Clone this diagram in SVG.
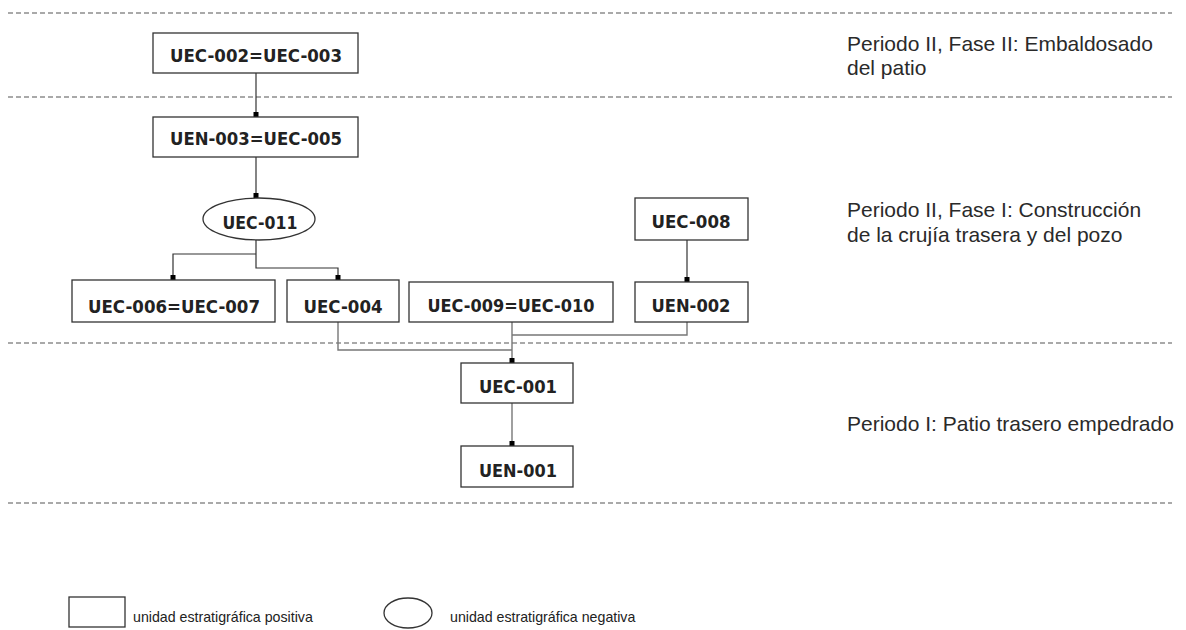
<svg xmlns="http://www.w3.org/2000/svg" width="1186" height="630" viewBox="0 0 1186 630">
<style>
.bg{fill:#fff}
.sep{stroke:#555;stroke-width:1.2;stroke-dasharray:5 3;fill:none}
.box{fill:#fff;stroke:#333;stroke-width:1.3}
.lbl{font-family:"DejaVu Sans Condensed","DejaVu Sans",sans-serif;font-size:17px;font-weight:bold;fill:#222;text-anchor:middle}
.per{font-family:"Liberation Sans",Arial,sans-serif;font-size:21px;fill:#2a2a2a}
.leg{font-family:"Liberation Sans",Arial,sans-serif;font-size:14.2px;fill:#222}
.con{stroke:#333;stroke-width:1.2;fill:none}
.con2{stroke:#777;stroke-width:1.4;fill:none}
.mk{fill:#000}
</style>
<rect class="bg" x="0" y="0" width="1186" height="630"/>
<g id="separators">
<line class="sep" x1="8" y1="13" x2="1172" y2="13"/>
<line class="sep" x1="8" y1="97" x2="1172" y2="97"/>
<line class="sep" x1="8" y1="343" x2="1172" y2="343"/>
<line class="sep" x1="8" y1="503" x2="1172" y2="503"/>
</g>
<g id="connectors">
<path class="con" d="M256 73 V117"/>
<rect class="mk" x="253.5" y="112" width="5" height="5"/>
<path class="con" d="M256 157 V198"/>
<rect class="mk" x="253.5" y="193" width="5" height="5"/>
<path class="con" d="M256 240 V268 H338 V280"/>
<path class="con" d="M256 254 H173 V280"/>
<rect class="mk" x="170.5" y="275" width="5" height="5"/>
<rect class="mk" x="335.5" y="275" width="5" height="5"/>
<path class="con" d="M687 240 V282"/>
<rect class="mk" x="684.5" y="277" width="5" height="5"/>
<path class="con2" d="M687 322 V335 H512"/>
<path class="con2" d="M338 322 V350 H512"/>
<path class="con2" d="M512 322 V363"/>
<rect class="mk" x="509.5" y="358" width="5" height="5"/>
<path class="con2" d="M512 403 V446"/>
<rect class="mk" x="509.5" y="441" width="5" height="5"/>
</g>
<g id="n-uec002">
<rect class="box" x="153" y="33" width="205" height="40"/>
<text class="lbl" x="256" y="62" textLength="172" lengthAdjust="spacingAndGlyphs">UEC-002=UEC-003</text>
</g>
<g id="n-uen003">
<rect class="box" x="153" y="117" width="205" height="40"/>
<text class="lbl" x="256" y="145" textLength="172" lengthAdjust="spacingAndGlyphs">UEN-003=UEC-005</text>
</g>
<g id="n-uec011">
<ellipse class="box" cx="259" cy="219" rx="56" ry="21"/>
<text class="lbl" x="260" y="229" textLength="75" lengthAdjust="spacingAndGlyphs">UEC-011</text>
</g>
<g id="n-uec006">
<rect class="box" x="72" y="280" width="203" height="42"/>
<text class="lbl" x="174" y="313" textLength="172" lengthAdjust="spacingAndGlyphs">UEC-006=UEC-007</text>
</g>
<g id="n-uec004">
<rect class="box" x="287" y="280" width="112" height="42"/>
<text class="lbl" x="343" y="313" textLength="79" lengthAdjust="spacingAndGlyphs">UEC-004</text>
</g>
<g id="n-uec009">
<rect class="box" x="409" y="282" width="204" height="40"/>
<text class="lbl" x="511" y="312" textLength="167" lengthAdjust="spacingAndGlyphs">UEC-009=UEC-010</text>
</g>
<g id="n-uec008">
<rect class="box" x="635" y="198" width="113" height="42"/>
<text class="lbl" x="691" y="228" textLength="79" lengthAdjust="spacingAndGlyphs">UEC-008</text>
</g>
<g id="n-uen002">
<rect class="box" x="635" y="282" width="113" height="40"/>
<text class="lbl" x="691" y="312" textLength="79" lengthAdjust="spacingAndGlyphs">UEN-002</text>
</g>
<g id="n-uec001">
<rect class="box" x="461" y="363" width="112" height="40"/>
<text class="lbl" x="518" y="393" textLength="78" lengthAdjust="spacingAndGlyphs">UEC-001</text>
</g>
<g id="n-uen001">
<rect class="box" x="461" y="446" width="112" height="41"/>
<text class="lbl" x="518" y="477" textLength="78" lengthAdjust="spacingAndGlyphs">UEN-001</text>
</g>
<g id="periods">
<text class="per" x="847" y="51">Periodo II, Fase II: Embaldosado</text>
<text class="per" x="847" y="75">del patio</text>
<text class="per" x="847" y="217">Periodo II, Fase I: Construcción</text>
<text class="per" x="847" y="242">de la crujía trasera y del pozo</text>
<text class="per" x="847" y="431">Periodo I: Patio trasero empedrado</text>
</g>
<g id="legend">
<rect class="box" x="69" y="597" width="56" height="30"/>
<text class="leg" x="133" y="622">unidad estratigráfica positiva</text>
<ellipse class="box" cx="408" cy="613" rx="24" ry="15"/>
<text class="leg" x="450" y="622">unidad estratigráfica negativa</text>
</g>
</svg>
